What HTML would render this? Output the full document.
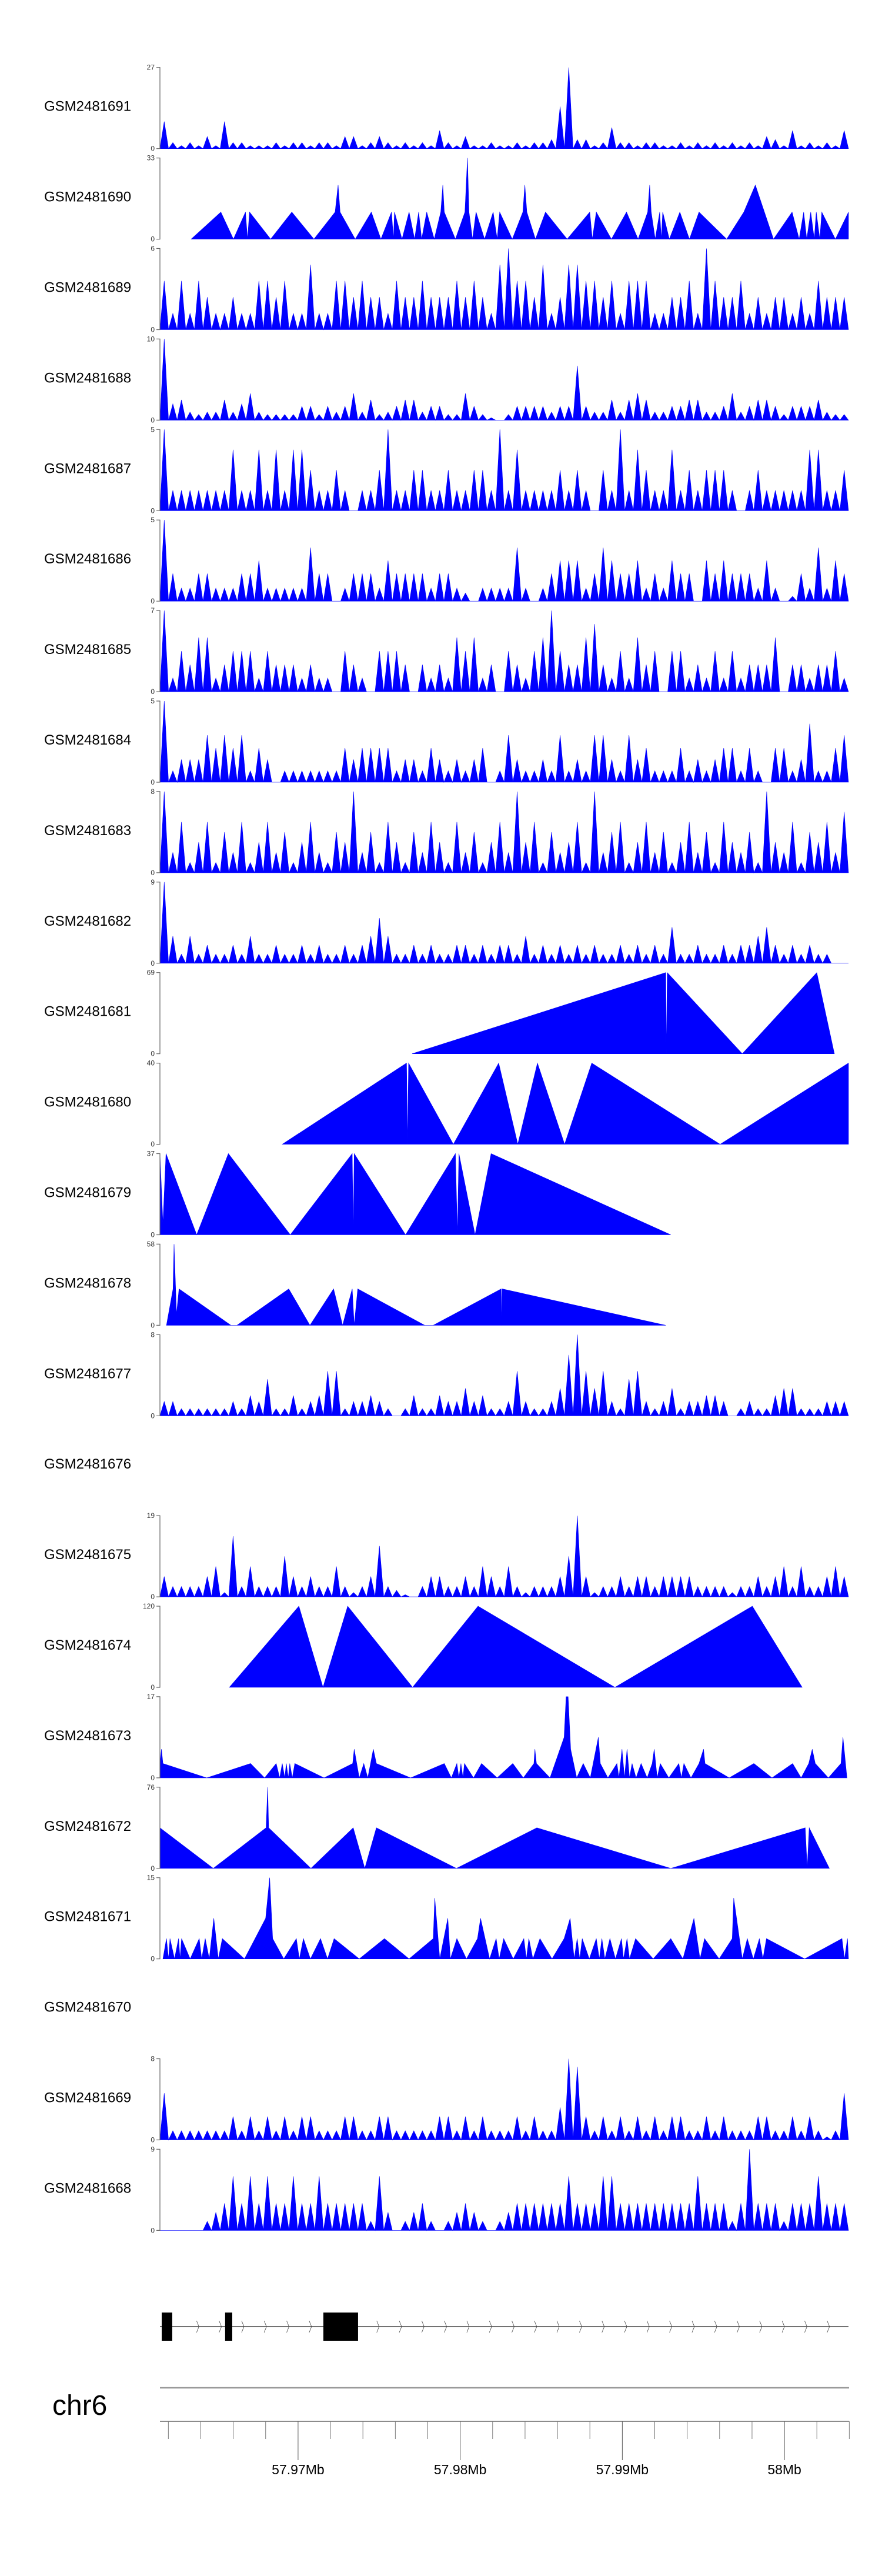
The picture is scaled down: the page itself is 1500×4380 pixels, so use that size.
<!DOCTYPE html>
<html><head><meta charset="utf-8"><style>
html,body{margin:0;padding:0;background:#fff;}
svg{display:block;font-family:"Liberation Sans",sans-serif;}
</style></head><body>
<svg id="chart" width="1500" height="4380" viewBox="0 0 1500 4380" xmlns="http://www.w3.org/2000/svg"></svg>
<script>
// ---- data ----
const sampleNames = ["GSM2481691","GSM2481690","GSM2481689","GSM2481688","GSM2481687","GSM2481686","GSM2481685","GSM2481684","GSM2481683","GSM2481682","GSM2481681","GSM2481680","GSM2481679","GSM2481678","GSM2481677","GSM2481676","GSM2481675","GSM2481674","GSM2481673","GSM2481672","GSM2481671","GSM2481670","GSM2481669","GSM2481668"];
const axisMax = [27,33,6,10,5,5,7,5,8,9,69,40,37,58,8,null,19,120,17,76,15,null,8,9];
const regionStartKb = 57961.48;
const regionEndKb = 58003.95;
const posDomain = [0,1368];
const axisTicksKb = [57962,57964,57966,57968,57970,57972,57974,57976,57978,57980,57982,57984,57986,57988,57990,57992,57994,57996,57998,58000,58002,58004];
const axisLabelKb = [57970,57980,57990,58000];
const axisLabels = ["57.97Mb","57.98Mb","57.99Mb","58Mb"];
const exonStartKb = [57961.59,57965.50,57971.56];
const exonEndKb = [57962.24,57965.94,57973.70];

const vals1691 = [9,2,1,2,1,4,1,9,2,2,1,1,1,2,1,2,2,1,2,2,1,4,4,1,2,4,2,1,2,1,2,1,6,2,1,4,1,1,2,1,1,2,1,2,2,3,14,27,3,3,1,2,7,2,2,1,2,2,1,1,2,1,2,1,2,1,2,1,2,1,4,3,1,6,1,2,1,2,1,6];
const pos1690 = [62,121,146,170,174,178,220,262,306,348,354,358,388,420,439,460,464,466,481,495,506,514,520,530,545,558,562,565,587,606,611,614,621,628,645,662,670,675,700,721,725,729,746,766,809,854,859,867,897,927,950,969,973,976,984,993,996,999,1012,1033,1052,1071,1126,1160,1183,1219,1256,1270,1279,1285,1293,1300,1304,1311,1315,1342,1368];
const vals1690 = [0,11,0,11,0,11,0,11,0,11,22,11,0,11,0,11,0,11,0,11,0,11,0,11,0,11,22,11,0,11,33,11,0,11,0,11,0,11,0,11,22,11,0,11,0,11,0,11,0,11,0,11,22,11,0,11,0,11,0,11,0,11,0,11,22,0,11,0,11,0,11,0,11,0,11,0,11];
const vals1689 = [3.6,1.2,3.6,1.2,3.6,2.4,1.2,1.2,2.4,1.2,1.2,3.6,3.6,2.4,3.6,1.2,1.2,4.8,1.2,1.2,3.6,3.6,2.4,3.6,2.4,2.4,1.2,3.6,2.4,2.4,3.6,2.4,2.4,2.4,3.6,2.4,3.6,2.4,1.2,4.8,6,3.6,3.6,2.4,4.8,1.2,2.4,4.8,4.8,3.6,3.6,2.4,3.6,1.2,3.6,3.6,3.6,1.2,1.2,2.4,2.4,3.6,1.2,6,3.6,2.4,2.4,3.6,1.2,2.4,1.2,2.4,2.4,1.2,2.4,1.2,3.6,2.4,2.4,2.4];
const vals1688 = [10,2,2.5,1,0.7,1,1,2.5,1,2,3.3,1,0.7,0.7,0.7,0.7,1.7,1.7,0.7,1.7,1,1.7,3.3,1,2.5,0.7,1,1.7,2.5,2.5,1,1.7,1.7,0.7,0.7,3.3,1.7,0.7,0.3,0,0.7,1.7,1.7,1.7,1.7,1,1.7,1.7,6.7,1.7,1,1,2.5,1,2.5,3.3,2.5,1,1,1.7,1.7,2.5,2.5,1,1,1.7,3.3,1,1.7,2.5,2.5,1.7,0.7,1.7,1.7,1.7,2.5,1,0.7,0.7];
const vals1687 = [5,1.25,1.25,1.25,1.25,1.25,1.25,1.25,3.75,1.25,1.25,3.75,1.25,3.75,1.25,3.75,3.75,2.5,1.25,1.25,2.5,1.25,0,1.25,1.25,2.5,5,1.25,1.25,2.5,2.5,1.25,1.25,2.5,1.25,1.25,2.5,2.5,1.25,5,1.25,3.75,1.25,1.25,1.25,1.25,2.5,1.25,2.5,1.25,0,2.5,1.25,5,1.25,3.75,2.5,1.25,1.25,3.75,1.25,2.5,1.25,2.5,2.5,2.5,1.25,0,1.25,2.5,1.25,1.25,1.25,1.25,1.25,3.75,3.75,1.25,1.25,2.5];
const vals1686 = [5,1.7,0.8,0.8,1.7,1.7,0.8,0.8,0.8,1.7,1.7,2.5,0.8,0.8,0.8,0.8,0.8,3.3,1.7,1.7,0,0.8,1.7,1.7,1.7,0.8,2.5,1.7,1.7,1.7,1.7,0.8,1.7,1.7,0.8,0.5,0,0.8,0.8,0.8,0.8,3.3,0.8,0,0.8,1.7,2.5,2.5,2.5,0.8,1.7,3.3,2.5,1.7,1.7,2.5,0.8,1.7,0.8,2.5,1.7,1.7,0,2.5,1.7,2.5,1.7,1.7,1.7,0.8,2.5,0.8,0,0.3,1.7,0.8,3.3,0.8,2.5,1.7];
const vals1685 = [7,1.17,3.5,2.33,4.67,4.67,1.17,2.33,3.5,3.5,3.5,1.17,3.5,2.33,2.33,2.33,1.17,2.33,1.17,1.17,0,3.5,2.33,1.17,0,3.5,3.5,3.5,2.33,0,2.33,1.17,2.33,1.17,4.67,3.5,4.67,1.17,2.33,0,3.5,2.33,1.17,3.5,4.67,7,3.5,2.33,2.33,4.67,5.83,2.33,1.17,3.5,1.17,4.67,2.33,3.5,0,3.5,3.5,1.17,2.33,1.17,3.5,1.17,3.5,1.17,2.33,2.33,2.33,4.67,0,2.33,2.33,1.17,2.33,2.33,3.5,1.17];
const vals1684 = [5,0.7,1.4,1.4,1.4,2.9,2.1,2.9,2.1,2.9,0.7,2.1,1.4,0,0.7,0.7,0.7,0.7,0.7,0.7,0.7,2.1,1.4,2.1,2.1,2.1,2.1,0.7,1.4,1.4,0.7,2.1,1.4,0.7,1.4,0.7,1.4,2.1,0,0.7,2.9,1.4,0.7,0.7,1.4,0.7,2.9,0.7,1.4,0.7,2.9,2.9,1.4,0.7,2.9,1.4,2.1,0.7,0.7,0.7,2.1,0.7,1.4,0.7,1.4,2.1,2.1,0.7,2.1,0.7,0,2.1,2.1,0.7,1.4,3.6,0.7,0.7,2.1,2.9];
const vals1683 = [8,2,5,1,3,5,1,4,2,5,1,3,5,2,4,1,3,5,2,1,4,3,8,2,4,1,5,3,1,4,2,5,3,1,5,2,4,1,3,5,2,8,3,5,1,4,2,3,5,1,8,2,4,5,1,3,5,2,4,1,3,5,2,4,1,5,3,2,4,1,8,3,2,5,1,4,3,5,2,6];
const vals1682 = [9,3,1,3,1,2,1,1,2,1,3,1,1,2,1,1,2,1,2,1,1,2,1,2,3,5,3,1,1,2,1,2,1,1,2,2,1,2,1,2,2,1,3,1,2,1,2,1,2,1,2,1,1,2,1,2,1,2,1,4,1,1,2,1,1,2,1,2,2,3,4,2,1,2,1,2,1,1,0,0];
const pos1681 = [501,1005,1006,1008,1157,1305,1340];
const vals1681 = [0,69,0,69,0,69,0];
const pos1680 = [243,490,492,494,583,673,711,750,804,858,1113,1368];
const vals1680 = [0,40,0,40,0,40,0,40,0,40,0,40];
const pos1679 = [0,6,12,73,136,259,382,384,386,488,587,591,594,626,658,1015];
const vals1679 = [37,5,37,0,37,0,37,0,37,0,37,0,37,0,37,0];
const pos1678 = [13,26,28,33,38,141,153,256,298,345,363,382,386,393,526,543,678,679,680,1005];
const vals1678 = [0,26,58,8,26,0,0,26,0,26,0,26,0,26,0,0,26,0,26,0];
const vals1677 = [1.4,1.4,0.7,0.7,0.7,0.7,0.7,0.7,1.4,0.7,2,1.4,3.6,0.7,0.7,2,0.7,1.4,2,4.4,4.4,0.7,1.4,1.4,2,1.4,0.7,0,0.7,2,0.7,0.7,2,1.4,1.4,2.7,1.4,2,0.7,0.7,1.4,4.4,1.4,0.7,0.7,1.4,2.7,6,8,4.4,2.7,4.4,1.4,0.7,3.6,4.4,1.4,0.7,1.4,2.7,0.7,1.4,1.4,2,2,1.4,0,0.7,1.4,0.7,0.7,2,2.7,2.7,0.7,0.7,0.7,1.4,1.4,1.4];
const vals1675 = [4.75,2.4,2.4,2.4,2.4,4.75,7.1,1,14.2,2.4,7.1,2.4,2.4,2.4,9.5,4.75,2.4,4.75,2.4,2.4,7.1,2.4,1,2.4,4.75,11.9,2.4,1.5,0.5,0,2.4,4.75,4.75,2.4,2.4,4.75,2.4,7.1,4.75,2.4,7.1,2.4,1,2.4,2.4,2.4,4.75,9.5,19,4.75,1,2.4,2.4,4.75,2.4,4.75,4.75,2.4,4.75,4.75,4.75,4.75,2.4,2.4,2.4,2.4,1,2.4,2.4,4.75,2.4,4.75,7.1,2.4,7.1,2.4,2.4,4.75,7.1,4.75];
const pos1674 = [138,276,324,373,502,632,904,1177,1276];
const vals1674 = [0,120,0,120,0,120,0,120,0];
const pos1673 = [0,3,6,93,180,208,231,238,243,248,251,255,258,263,268,326,383,386,396,405,413,424,430,498,565,579,590,594,598,602,605,623,639,670,701,722,743,745,748,775,803,807,811,816,828,841,855,871,875,890,908,912,918,923,928,933,938,946,956,968,978,982,988,994,1011,1031,1036,1041,1055,1071,1080,1083,1131,1180,1216,1257,1274,1289,1296,1302,1328,1353,1357,1365];
const vals1673 = [3,6,3,0,3,0,3,0,3,0,3,0,3,0,3,0,3,6,0,3,0,6,3,0,3,0,3,0,3,0,3,0,3,0,3,0,3,6,3,0,8.5,17,17,6,0,3,0,8.5,3,0,3,0,6,0,6,0,3,0,3,0,3,6,0,3,0,3,0,3,0,3,6,3,0,3,0,3,0,3,6,3,0,3,8.5,0];
const pos1672 = [0,106,211,214,216,300,384,407,430,589,749,1015,1282,1286,1290,1330];
const vals1672 = [38,0,38,76,38,0,38,0,38,0,38,0,38,0,38,0];
const pos1671 = [6,13,17,20,29,37,40,43,60,78,83,90,98,107,116,124,168,210,218,224,246,271,277,285,299,319,333,346,396,446,495,543,546,556,572,577,590,609,631,637,655,668,674,683,702,723,728,733,741,755,779,803,815,823,829,834,839,853,867,873,878,884,894,905,917,921,928,933,945,980,1015,1039,1061,1073,1082,1111,1137,1140,1157,1167,1179,1191,1198,1205,1281,1355,1360,1366,1368];
const vals1671 = [0,3.75,0,3.75,0,3.75,0,3.75,0,3.75,0,3.75,0,7.5,0,3.75,0,7.5,15,3.75,0,3.75,0,3.75,0,3.75,0,3.75,0,3.75,0,3.75,11.25,0,7.5,0,3.75,0,3.75,7.5,0,3.75,0,3.75,0,3.75,0,3.75,0,3.75,0,3.75,7.5,0,3.75,0,3.75,0,3.75,0,3.75,0,3.75,0,3.75,0,3.75,0,3.75,0,3.75,0,7.5,0,3.75,0,3.75,11.25,0,3.75,0,3.75,0,3.75,0,3.75,0,3.75,0];
const vals1669 = [4.6,0.9,0.9,0.9,0.9,0.9,0.9,0.9,2.3,0.9,2.3,0.9,2.3,0.9,2.3,0.9,2.3,2.3,0.9,0.9,0.9,2.3,2.3,0.9,0.9,2.3,2.3,0.9,0.9,0.9,0.9,0.9,2.3,2.3,0.9,2.3,0.9,2.3,0.9,0.9,0.9,2.3,0.9,2.3,0.9,0.9,3.2,8,7.2,2.3,0.9,2.3,0.9,2.3,0.9,2.3,0.9,2.3,0.9,2.3,2.3,0.9,0.9,2.3,0.9,2.3,0.9,0.9,0.9,2.3,2.3,0.9,0.9,2.3,0.9,2.3,0.9,0.3,0.9,4.6];
const vals1668 = [0,0,0,0,0,1,2,3,6,3,6,3,6,3,3,6,3,3,6,3,3,3,3,3,1,6,2,0,1,2,3,1,0,1,2,3,2,1,0,1,2,3,3,3,3,3,3,6,3,3,3,6,6,3,3,3,3,3,3,3,3,3,6,3,3,3,1,3,9,3,3,3,1,3,3,3,6,3,3,3];

// ---- layout ----
const NS = "http://www.w3.org/2000/svg";
const svg = document.getElementById('chart');
const PX0 = 272, PX1 = 1443;
const TOP0 = 114.7, PITCH = 153.9, PH = 138;
function xPos(u){ return PX0 + (u - posDomain[0]) / (posDomain[1] - posDomain[0]) * (PX1 - PX0); }
function xKb(kb){ return PX0 + (kb - regionStartKb) / (regionEndKb - regionStartKb) * (PX1 - PX0); }
function mk(tag, attrs, parent){ const e = document.createElementNS(NS, tag); for (const k in attrs) e.setAttribute(k, attrs[k]); (parent||svg).appendChild(e); return e; }

const trackData = {
 "GSM2481691": {vals: vals1691}, "GSM2481690": {pos: pos1690, vals: vals1690},
 "GSM2481689": {vals: vals1689}, "GSM2481688": {vals: vals1688}, "GSM2481687": {vals: vals1687},
 "GSM2481686": {vals: vals1686}, "GSM2481685": {vals: vals1685}, "GSM2481684": {vals: vals1684},
 "GSM2481683": {vals: vals1683}, "GSM2481682": {vals: vals1682},
 "GSM2481681": {pos: pos1681, vals: vals1681}, "GSM2481680": {pos: pos1680, vals: vals1680},
 "GSM2481679": {pos: pos1679, vals: vals1679}, "GSM2481678": {pos: pos1678, vals: vals1678},
 "GSM2481677": {vals: vals1677}, "GSM2481676": null, "GSM2481675": {vals: vals1675},
 "GSM2481674": {pos: pos1674, vals: vals1674}, "GSM2481673": {pos: pos1673, vals: vals1673},
 "GSM2481672": {pos: pos1672, vals: vals1672}, "GSM2481671": {pos: pos1671, vals: vals1671},
 "GSM2481670": null, "GSM2481669": {vals: vals1669}, "GSM2481668": {vals: vals1668}
};

sampleNames.forEach((name, i) => {
  const top = TOP0 + PITCH * i, zero = top + PH;
  const g = mk('g', {});
  
  
  const lab = mk('text', {x: 75, y: (top + 74).toFixed(1), 'font-size': 24, fill: '#000'}, g);
  
  
  lab.textContent = name;
  const d = trackData[name];
  const mx = axisMax[i];
  if (!d || mx == null) return;
  const yv = v => zero - v / mx * PH;
  let pts = [];
  if (d.pos) {
    pts.push([xPos(d.pos[0]), zero]);
    d.pos.forEach((p, k) => pts.push([xPos(p), yv(d.vals[k])]));
    pts.push([xPos(d.pos[d.pos.length - 1]), zero]);
  } else {
    const n = d.vals.length, w = (posDomain[1] - posDomain[0]) / n;
    pts.push([xPos(0), zero]);
    d.vals.forEach((v, k) => {
      pts.push([xPos(k * w), zero]);
      pts.push([xPos((k + 0.5) * w), yv(v)]);
    });
    pts.push([xPos(posDomain[1]), zero]);
  }
  const area = mk('path', {d: 'M' + pts.map(p => p[0].toFixed(1) + ',' + p[1].toFixed(1)).join('L') + 'Z', fill: '#0000ff', stroke: '#0000ff', 'stroke-width': 0.6, 'stroke-linejoin': 'miter'}, g);
  
  
  const ax = mk('path', {d: `M${PX0-6},${top}H${PX0}V${zero}H${PX0-6}`, fill: 'none', stroke: '#666', 'stroke-width': 1.2}, g);
  
  
  const t1 = mk('text', {x: PX0 - 9, y: top + 4, 'font-size': 12, 'text-anchor': 'end', fill: '#333'}, g);
  
  
  t1.textContent = String(mx);
  const t0 = mk('text', {x: PX0 - 9, y: zero + 4, 'font-size': 12, 'text-anchor': 'end', fill: '#333'}, g);
  
  
  t0.textContent = '0';
});

// ---- gene model ----
const gene = mk('g', {});


const gl = mk('line', {x1: xKb(regionStartKb), x2: PX1, y1: 3956, y2: 3956, stroke: '#444', 'stroke-width': 1.5}, gene);


for (let x = 296; x < PX1; x += 38.3) {
  const ex = exonStartKb.some((s, k) => x > xKb(s) - 4 && x < xKb(exonEndKb[k]) + 4);
  if (ex) continue;
  const ch = mk('path', {d: `M${x.toFixed(1)},${3946}L${(x+4).toFixed(1)},3956L${x.toFixed(1)},3966`, fill: 'none', stroke: '#444', 'stroke-width': 0.8}, gene);
  
  
}
exonStartKb.forEach((s, k) => {
  const r = mk('rect', {x: xKb(s), y: 3932, width: xKb(exonEndKb[k]) - xKb(s), height: 48, fill: '#000'}, gene);
  
  
});

// ---- ideogram / axis ----
const axg = mk('g', {});


const ideo = mk('line', {x1: PX0, x2: PX1 + 1, y1: 4060, y2: 4060, stroke: '#999', 'stroke-width': 2.5}, axg);


const chr = mk('text', {x: 89, y: 4106, 'font-size': 48, fill: '#000'}, axg);


chr.textContent = 'chr6';
const al = mk('line', {x1: PX0, x2: PX1 + 1, y1: 4117, y2: 4117, stroke: '#666', 'stroke-width': 1.5}, axg);


axisTicksKb.forEach(kb => {
  const major = axisLabelKb.indexOf(kb) >= 0;
  const tk = mk('line', {x1: xKb(kb), x2: xKb(kb), y1: 4117, y2: major ? 4183 : 4147, stroke: major ? '#555' : '#777', 'stroke-width': 1}, axg);
  
  
});
axisLabelKb.forEach((kb, k) => {
  const t = mk('text', {x: xKb(kb), y: 4207, 'font-size': 23, 'text-anchor': 'middle', fill: '#000'}, axg);
  
  
  t.textContent = axisLabels[k];
});
</script>
</body></html>
